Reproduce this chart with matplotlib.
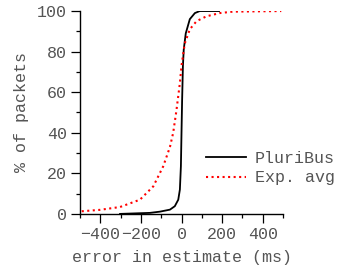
import matplotlib
matplotlib.use('Agg')
import matplotlib.pyplot as plt
from matplotlib.ticker import MultipleLocator

# CDF of estimate error (ms -> % of packets)
pluribus_x = [-303, -156, -107, -57, -33, -16, -8, -3, 0, 3, 7, 11, 21, 41, 66, 90, 185]
pluribus_y = [0, 0.5, 1.1, 2.1, 3.8, 7, 12, 23.5, 40, 56, 73, 81, 89, 96, 99, 100, 100]

expavg_x = [-492, -402, -303, -205, -139, -90, -57, -41, -25, -8, 0, 16, 41, 74, 123, 189, 254, 492]
expavg_y = [1.3, 2, 3.4, 7, 13.6, 23.5, 33, 40, 51, 64.5, 73, 84, 91, 95, 97.4, 99, 99.7, 100]

plt.rcParams['font.family'] = ['Liberation Mono', 'DejaVu Sans']
txt = '#555555'
fs = 12

fig = plt.figure(figsize=(3.38, 2.76), dpi=100)
ax = fig.add_axes([0.237, 0.225, 0.600, 0.735])

ax.plot(pluribus_x, pluribus_y, color='black', linewidth=1.3, label='PluriBus')
ax.plot(expavg_x, expavg_y, color='red', linestyle=':', linewidth=1.5, label='Exp. avg')

ax.set_xlim(-500, 500)
ax.set_ylim(0, 100)
ax.xaxis.set_minor_locator(MultipleLocator(100))
ax.yaxis.set_major_locator(MultipleLocator(20))
ax.yaxis.set_minor_locator(MultipleLocator(10))
ax.set_xticks([-400, -200, 0, 200, 400])
ax.tick_params(which='major', length=6.5, width=0.9, colors='black', labelcolor=txt,
               labelsize=fs, pad=3)
ax.tick_params(which='minor', length=3, width=0.9, colors='black')

for s in ['top', 'right']:
    ax.spines[s].set_visible(False)
ax.spines['left'].set_linewidth(1.0)
ax.spines['bottom'].set_linewidth(1.0)

ax.set_xlabel('error in estimate (ms)', fontsize=fs, color=txt, labelpad=6)
ax.set_ylabel('% of packets', fontsize=fs, color=txt, labelpad=6)

leg = ax.legend(loc='center left', bbox_to_anchor=(0.59, 0.225), frameon=False,
                fontsize=fs, handlelength=2.4, handletextpad=0.5, labelspacing=0.25,
                borderaxespad=0)
for t in leg.get_texts():
    t.set_color(txt)

plt.savefig('out.png', dpi=100)
plt.close()
